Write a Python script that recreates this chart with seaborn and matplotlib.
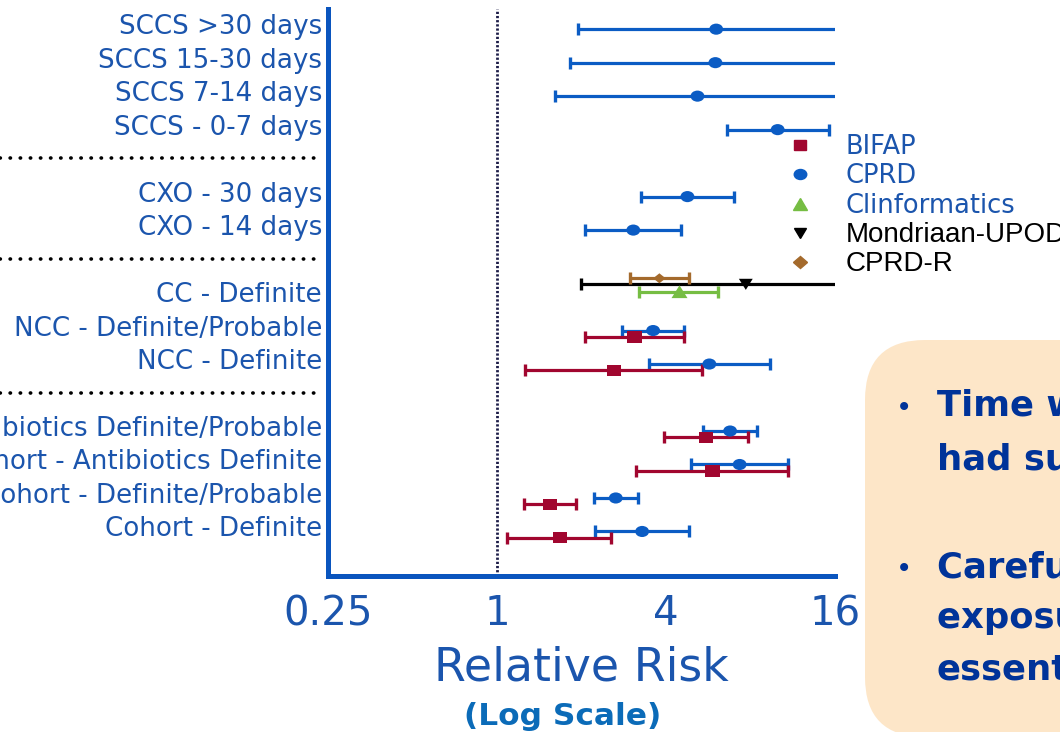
import matplotlib
matplotlib.use("Agg")
import numpy as np
import pandas as pd
import matplotlib.pyplot as plt
import seaborn as sns
from matplotlib.markers import MarkerStyle
from matplotlib.transforms import Affine2D, blended_transform_factory
from matplotlib.lines import Line2D
from matplotlib.patches import FancyBboxPatch
from matplotlib.ticker import NullLocator

# analyses from top to bottom, one list per study design
groups = [
    ["SCCS >30 days", "SCCS 15-30 days", "SCCS 7-14 days", "SCCS - 0-7 days"],
    ["CXO - 30 days", "CXO - 14 days"],
    ["CC - Definite", "NCC - Definite/Probable", "NCC - Definite"],
    ["Cohort - Antibiotics Definite/Probable", "Cohort - Antibiotics Definite",
     "Cohort - Definite/Probable", "Cohort - Definite"],
]

# relative risk and 95% CI per database (upper = 16 means it runs off the axis)
cprd_rows = ["SCCS >30 days", "SCCS 15-30 days", "SCCS 7-14 days", "SCCS - 0-7 days",
             "CXO - 30 days", "CXO - 14 days", "NCC - Definite/Probable", "NCC - Definite",
             "Cohort - Antibiotics Definite/Probable", "Cohort - Antibiotics Definite",
             "Cohort - Definite/Probable", "Cohort - Definite"]
cprd_rr = [6.04, 6.00, 5.18, 10.0, 4.77, 3.06, 3.60, 5.71, 6.77, 7.32, 2.65, 3.29]
cprd_lo = [1.94, 1.82, 1.61, 6.59, 3.26, 2.06, 2.80, 3.47, 5.43, 4.90, 2.21, 2.24]
cprd_hi = [16, 16, 16, 15.2, 6.99, 4.54, 4.62, 9.37, 8.43, 10.9, 3.18, 4.83]

bifap_rows = ["NCC - Definite/Probable", "NCC - Definite",
              "Cohort - Antibiotics Definite/Probable", "Cohort - Antibiotics Definite",
              "Cohort - Definite/Probable", "Cohort - Definite"]
bifap_rr = [3.09, 2.62, 5.56, 5.86, 1.55, 1.68]
bifap_lo = [2.06, 1.26, 3.94, 3.14, 1.25, 1.09]
bifap_hi = [4.64, 5.38, 7.83, 10.9, 1.91, 2.55]

clin_rows = ["CC - Definite"]
clin_rr = [4.47]
clin_lo = [3.20]
clin_hi = [6.14]

mond_rows = ["CC - Definite"]
mond_rr = [7.70]
mond_lo = [2.00]
mond_hi = [16]

cprdr_rows = ["CC - Definite"]
cprdr_rr = [3.79]
cprdr_lo = [2.97]
cprdr_hi = [4.82]

sources = ["BIFAP", "CPRD", "Clinformatics", "Mondriaan-UPOD", "CPRD-R"]
colors = {"BIFAP": "#A1062F", "CPRD": "#0B5CC4", "Clinformatics": "#76BD43",
          "Mondriaan-UPOD": "#000000", "CPRD-R": "#A46A2C"}
# vertical nudge inside a row so overlapping estimates stay readable
nudge = {"BIFAP": 0.19, "CPRD": 0.0, "Clinformatics": -0.16,
         "Mondriaan-UPOD": -0.38, "CPRD-R": -0.56}

label_blue = "#1B55AD"
axis_blue = "#0A55BE"

# row slots, with an empty slot for the dotted separator between designs
slot = {}
sep_slots = []
pos = 0
for g, names in enumerate(groups):
    if g:
        sep_slots.append(pos)
        pos += 1
    for n in names:
        slot[n] = pos
        pos += 1

frames = []
for src, rows, rr, lo, hi in [
    ("CPRD", cprd_rows, cprd_rr, cprd_lo, cprd_hi),
    ("BIFAP", bifap_rows, bifap_rr, bifap_lo, bifap_hi),
    ("Clinformatics", clin_rows, clin_rr, clin_lo, clin_hi),
    ("Mondriaan-UPOD", mond_rows, mond_rr, mond_lo, mond_hi),
    ("CPRD-R", cprdr_rows, cprdr_rr, cprdr_lo, cprdr_hi),
]:
    frames.append(pd.DataFrame({"source": src, "analysis": rows,
                                "rr": rr, "lo": lo, "hi": hi}))
df = pd.concat(frames, ignore_index=True)
df["y"] = df["analysis"].map(slot) + df["source"].map(nudge)

sns.set_theme(style="white")
plt.rcParams["font.family"] = ["DejaVu Sans"]

fig = plt.figure(figsize=(10.6, 7.32), dpi=100)
ax = fig.add_axes([0.3094, 0.2131, 0.4783, 0.7745])
ax.set_xscale("log", base=2)
ax.set_xlim(0.25, 16)
ax.set_ylim(16.33, -0.6)

# confidence intervals
for src in ["CPRD", "BIFAP", "Clinformatics", "Mondriaan-UPOD", "CPRD-R"]:
    d = df[df["source"] == src]
    c = colors[src]
    ax.hlines(d["y"], d["lo"], d["hi"], color=c, lw=2.3, zorder=2)
    ax.plot(d["lo"], d["y"], ls="none", marker="|", ms=9, mew=2.4, color=c, zorder=2)
    closed = d[d["hi"] < 16]
    ax.plot(closed["hi"], closed["y"], ls="none", marker="|", ms=9, mew=2.4,
            color=c, zorder=2)

# point estimates (the slide is a bit wide, so the markers are too)
stretch = Affine2D().scale(1.25, 1)
marker_map = {"BIFAP": MarkerStyle("s", transform=stretch),
              "CPRD": MarkerStyle("o", transform=stretch),
              "Clinformatics": MarkerStyle("^", transform=stretch),
              "Mondriaan-UPOD": MarkerStyle("v", transform=stretch),
              "CPRD-R": MarkerStyle("D", transform=stretch)}
size_map = {"BIFAP": 66, "CPRD": 64, "Clinformatics": 85,
            "Mondriaan-UPOD": 64, "CPRD-R": 26}
sns.scatterplot(data=df, x="rr", y="y", hue="source", style="source", size="source",
                hue_order=sources, style_order=sources, size_order=sources,
                palette=colors, markers=marker_map, sizes=size_map,
                linewidth=0, legend=False, zorder=3, ax=ax)

ax.axvline(1, color="#1C1C48", lw=2.0, ls=(0, (0.8, 0.7)), zorder=1)

# axes styling
for side in ["top", "right"]:
    ax.spines[side].set_visible(False)
for side in ["left", "bottom"]:
    ax.spines[side].set_color(axis_blue)
    ax.spines[side].set_linewidth(3.6)
ax.grid(False)
ax.xaxis.set_minor_locator(NullLocator())
ax.set_xticks([0.25, 1, 4, 16], ["0.25", "1", "4", "16"])
ax.tick_params(axis="x", length=7.2, width=3.6, color=axis_blue, pad=6,
               labelsize=29, labelcolor=label_blue)
labels = [n for names in groups for n in names]
ax.set_yticks([slot[n] - 0.15 for n in labels], labels)
ax.tick_params(axis="y", length=0, pad=4.3, labelsize=18.8, labelcolor=label_blue)
ax.set_xlabel("Relative Risk", fontsize=33, color=label_blue, labelpad=8)
ax.set_ylabel("")
fig.text(563 / 1060, 1 - 725 / 732, "(Log Scale)", ha="center", va="baseline",
         fontsize=22.5, fontweight="bold", color="#0B6BB8")

# dotted separators between designs, in the label area
sep_tr = blended_transform_factory(fig.transFigure, ax.transData)
for s in sep_slots:
    ax.plot([0, 315 / 1060], [s - 0.15, s - 0.15], transform=sep_tr, clip_on=False,
            color="black", lw=2.6, dashes=(0.1, 2.7), dash_capstyle="round")

# legend
handles = [Line2D([], [], ls="none", marker=marker_map[s], color=colors[s],
                  ms=np.sqrt(size_map[s]) * (0.9 if s != "CPRD-R" else 1.1))
           for s in sources]
leg = ax.legend(handles, sources, loc="upper left",
                bbox_to_anchor=(788 / 1060, 1 - 134 / 732),
                bbox_transform=fig.transFigure, frameon=False, fontsize=18.5,
                handlelength=0.95, handletextpad=1.3, labelspacing=0.13,
                borderpad=0, borderaxespad=0)
for txt, s in zip(leg.get_texts(), sources):
    if s in ("Mondriaan-UPOD", "CPRD-R"):
        txt.set_color("black")
        txt.set_fontfamily(["Liberation Sans", "DejaVu Sans"])
        txt.set_fontsize(20)
    else:
        txt.set_color(label_blue)

# key messages box on the right of the slide
box = FancyBboxPatch((8.65, -0.05), 3.0, 3.97, boxstyle="round,pad=0,rounding_size=0.6",
                     transform=fig.dpi_scale_trans, fc="#FDE6C8", ec="none", zorder=0)
fig.add_artist(box)
bullets = [["Time windows", "had substantial impact"],
           ["Careful definition of", "exposure is", "essential"]]
baselines = [[416, 470], [577, 628, 679]]
for lines, ys in zip(bullets, baselines):
    fig.text(904 / 1060, 1 - ys[0] / 732, "•", ha="center", va="baseline",
             fontsize=20, color="#003399")
    for line, yb in zip(lines, ys):
        fig.text(937 / 1060, 1 - yb / 732, line, ha="left", va="baseline",
                 fontsize=25.5, fontweight="bold", color="#003399")

fig.savefig("out.png", dpi=100)
